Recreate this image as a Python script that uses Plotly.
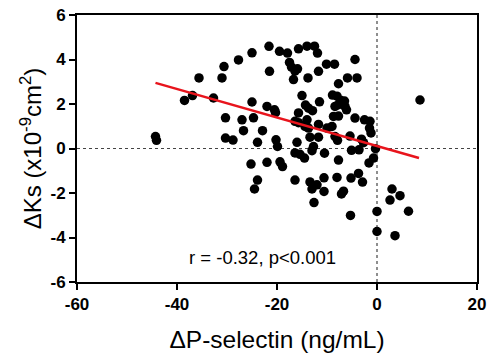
import plotly.graph_objects as go

# Scatter data: ΔP-selectin (ng/mL) vs ΔKs (x10^-9 cm^2)
dp_selectin = [
    -44.3, -44.1,
    -38.5, -36.9, -35.6, -32.7, -31.0, -30.6, -27.7, -25.0, -21.6, -19.5, -21.5,
    -25.0, -22.0, -20.5, -20.3, -30.3, -27.0, -24.7, -26.7, -22.9, -30.3, -28.8,
    -23.9, -20.2, -19.9, -25.2, -22.0, -19.4, -18.9, -23.9, -24.5,
    -17.9, -17.5, -17.1, -16.4, -15.9, -15.7, -14.0, -12.5, -11.9, -16.7, -13.8,
    -11.7, -10.1, -8.5, -4.4, -5.9, -4.0, -7.7, -15.0, -14.3, -13.7, -12.9, -11.5,
    -8.9, -8.0, -7.3, -6.5, -8.4, -7.7, -6.4, -6.1, -15.7, -16.4, -15.7, -14.0,
    -14.4, -13.7, -11.7, -10.0, -9.0, -8.7, -7.7, -4.4, -2.5, -1.4, -1.5, -1.2,
    8.6, -13.4, -11.7, -8.4, -7.9, -5.4, -3.1, -2.7, -16.0, -12.7, -13.0, -16.4,
    -15.4, -14.5, -10.5, -5.1, -3.6, -0.3, -0.7, -1.6, -7.7, -16.4, -13.4,
    -13.0, -12.0, -10.6, -10.6, -8.0, -5.2, -3.7, -2.9, -6.7, -7.1, -12.6, -5.3,
    0.0, 0.0, 3.6, 3.0, 4.6, 2.6, 6.3,
]
dks = [
    0.54, 0.37,
    2.16, 2.38, 3.17, 2.27, 3.17, 3.68, 3.98, 4.30, 4.59, 4.37, 3.47,
    2.09, 1.89, 1.74, 1.61, 1.38, 1.29, 1.38, 0.80, 0.80, 0.47, 0.38,
    0.28, 0.39, 0.09, -0.70, -0.62, -0.60, -0.81, -1.42, -1.82,
    4.29, 3.87, 3.66, 3.48, 3.58, 4.48, 4.60, 4.60, 4.29, 3.10, 3.17,
    3.47, 3.79, 3.79, 4.00, 3.17, 3.17, 2.91, 2.38, 1.95, 1.81, 1.70, 2.10,
    2.40, 2.35, 2.17, 2.13, 1.89, 1.97, 1.89, 1.74, 1.60, 1.22, 1.16, 1.29,
    0.99, 0.92, 1.08, 0.92, 0.99, 1.44, 1.46, 1.37, 1.29, 1.22, 0.92, 0.70,
    2.18, 0.51, 0.51, 0.54, 0.37, 0.56, 0.42, 0.26, 0.28, 0.09, -0.10, -0.20,
    -0.26, -0.43, -0.21, -0.08, -0.06, -0.01, -0.43, -0.65, -0.52, -1.42, -1.50,
    -1.82, -1.63, -1.32, -1.93, -1.30, -1.33, -1.12, -1.51, -1.92, -2.04, -2.43, -3.01,
    -2.83, -3.73, -3.92, -1.82, -2.12, -2.32, -2.82,
]

# Regression line end points
fit_x = [-44.3, 8.4]
fit_y = [2.95, -0.43]

x_ticks = [-60, -40, -20, 0, 20]
y_ticks = [-6, -4, -2, 0, 2, 4, 6]
annotation_text = "r = -0.32, p<0.001"

FONT = "Liberation Sans, Arial, sans-serif"

fig = go.Figure()
fig.add_trace(go.Scatter(
    x=dp_selectin, y=dks, mode="markers",
    marker=dict(color="black", size=9.5, line=dict(width=0)),
    showlegend=False, hoverinfo="skip",
))
fig.add_trace(go.Scatter(
    x=fit_x, y=fit_y, mode="lines",
    line=dict(color="#e8141c", width=2.5),
    showlegend=False, hoverinfo="skip",
))

# dotted zero lines
fig.add_shape(type="line", xref="x", yref="paper", x0=0, x1=0, y0=0, y1=1,
              line=dict(color="#444444", width=1.2, dash="dot"), layer="below")
fig.add_shape(type="line", xref="paper", yref="y", x0=0, x1=1, y0=0, y1=0,
              line=dict(color="#444444", width=1.2, dash="dot"), layer="below")

fig.add_annotation(x=-22.9, y=-4.92, xref="x", yref="y", text=annotation_text,
                   showarrow=False, font=dict(family=FONT, size=18.5, color="black"))

axis_common = dict(
    showgrid=False, zeroline=False, showline=True, linecolor="black", linewidth=2,
    mirror=True, ticks="outside", ticklen=6, tickwidth=2, tickcolor="black",
    automargin=False,
    tickfont=dict(family=FONT, size=17, color="black", weight="bold"),
)
fig.update_xaxes(range=[-60, 20], tickvals=x_ticks, ticktext=[str(v) for v in x_ticks],
                 title=dict(text="ΔP-selectin (ng/mL)", font=dict(family=FONT, size=24.5, color="black"), standoff=17),
                 **axis_common)
fig.update_yaxes(range=[-6, 6], tickvals=y_ticks, ticktext=[str(v) for v in y_ticks],
                 title=dict(text="ΔKs (x10<sup>-9</sup>cm<sup>2</sup>)", font=dict(family=FONT, size=24, color="black"), standoff=2),
                 **axis_common)

fig.update_layout(
    width=492, height=360,
    margin=dict(l=77, r=15, t=15, b=78),
    plot_bgcolor="white", paper_bgcolor="white",
    font=dict(family=FONT, color="black"),
    hovermode=False,
)

# remove the default page margin so the figure fills the window exactly
fig.write_html("out.html",
               config={"displayModeBar": False, "staticPlot": True},
               post_script="document.body.style.margin='0';document.body.style.overflow='hidden';")
